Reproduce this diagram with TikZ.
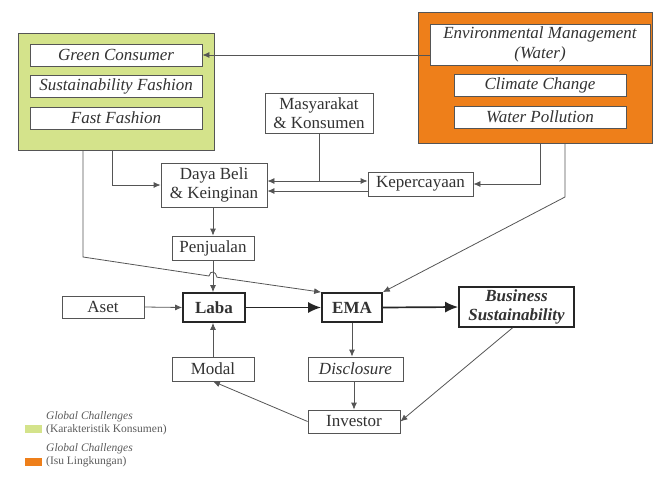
\documentclass[tikz,border=0pt]{standalone}
\usepackage{fontspec}
\setmainfont{Liberation Serif}
\definecolor{consgreen}{RGB}{212,227,139}
\definecolor{envorange}{RGB}{238,127,26}
\definecolor{linegray}{RGB}{85,85,85}
\definecolor{textgray}{RGB}{50,50,50}
\usetikzlibrary{positioning, arrows.meta}

\begin{document}
\begin{tikzpicture}[x=1pt, y=-1pt,
    box/.style={draw=linegray, line width=0.8pt, fill=white, inner sep=0pt, align=center,
                text=textgray, font=\fontsize{17}{19.5}\selectfont},
    boldbox/.style={box, draw=black!85, line width=1.7pt, font=\fontsize{17}{19.5}\selectfont\bfseries},
    arr/.style={draw=linegray, line width=0.8pt, -{Latex[length=7pt, width=6pt]}},
    bigarr/.style={draw=black!85, line width=1.7pt, -{Latex[length=13pt, width=11pt]}},
    legend/.style={anchor=west, inner sep=0pt, text=textgray!80, align=left,
                   font=\fontsize{11.5}{13}\selectfont}]
                \useasboundingbox (0,0) rectangle (654,482);

                % Global challenges: consumer side
                \node[draw=linegray, line width=0.8pt, fill=consgreen, minimum width=196pt, minimum height=117pt] (gbox) at (116,91.5) {};
                \node[box, minimum width=172pt, minimum height=22pt] (gc) at (116,55) {\itshape Green Consumer};
                \node[box, minimum width=172pt, minimum height=22pt] (sf) at (116,86) {\itshape Sustainability Fashion};
                \node[box, minimum width=172pt, minimum height=22pt] (ff) at (116,118) {\itshape Fast Fashion};

                % Global challenges: environment side
                \node[draw=linegray, line width=0.8pt, fill=envorange, minimum width=234pt, minimum height=131pt] (obox) at (535,77.5) {};
                \node[box, minimum width=220pt, minimum height=41pt] (emw) at (540,44.5) {\itshape Environmental Management\\\itshape (Water)};
                \node[box, minimum width=172pt, minimum height=22pt] (cc) at (540,85) {\itshape Climate Change};
                \node[box, minimum width=172pt, minimum height=22pt] (wp) at (540,117) {\itshape Water Pollution};

                % Middle blocks
                \node[box, minimum width=108pt, minimum height=40pt] (mk) at (319,113) {Masyarakat\\\& Konsumen};
                \node[box, minimum width=106pt, minimum height=44pt] (db) at (214,185) {Daya Beli\\\& Keinginan};
                \node[box, minimum width=105pt, minimum height=24pt] (kp) at (420.5,184) {Kepercayaan};
                \node[box, minimum width=82pt, minimum height=24pt] (pj) at (213,248) {Penjualan};

                % Main chain
                \node[box, minimum width=82pt, minimum height=22pt] (aset) at (103,307) {Aset};
                \node[boldbox, minimum width=62pt, minimum height=29pt] (laba) at (214,307.5) {Laba};
                \node[boldbox, minimum width=60pt, minimum height=29pt] (ema) at (352,307.5) {EMA};
                \node[boldbox, minimum width=115pt, minimum height=40pt] (bs) at (516.5,307) {\itshape Business\\\itshape Sustainability};
                \node[box, minimum width=82pt, minimum height=24pt] (modal) at (213,369) {Modal};
                \node[box, minimum width=95pt, minimum height=24pt] (disc) at (355.5,369) {\itshape Disclosure};
                \node[box, minimum width=92pt, minimum height=23pt] (inv) at (354,421.5) {Investor};

                % Links from the challenge boxes
                \coordinate (g1) at (112,150);
                \coordinate (g2) at (83,150);
                \coordinate (o1) at (540,143);
                \coordinate (o2) at (565,143);
                \draw[arr] (emw.west |- gc.east) -- (gc.east);
                \draw[arr] (g1) |- (db.west);
                \draw[arr] (g2) -- (83,257) -- (209,276) .. controls (210,270) and (216,271) .. (217,277.2) -- (ema.north west);
                \draw[arr] (o1) |- (kp.east);
                \draw[arr] (o2) -- (565,197) -- (ema.north east);

                % Trust loop
                \draw[arr, {Latex[length=7pt, width=6pt]}-{Latex[length=7pt, width=6pt]}] (db.east |- 0,181) -- (kp.west |- 0,181);
                \draw[arr] (kp.west |- 0,191) -- (db.east |- 0,191);
                \draw[draw=linegray, line width=0.8pt] (mk.south) -- (mk.south |- 0,181);

                % Flow to profit
                \draw[arr] (db.south -| pj.north) -- (pj.north);
                \draw[arr] (pj.south) -- (laba.north -| pj.south);
                \draw[arr] (aset.east) -- (laba.west);
                \draw[arr] (modal.north) -- (laba.south -| modal.north);
                \draw[bigarr] (laba.east) -- (ema.west);
                \draw[bigarr] (ema.east) -- (bs.west);

                % Disclosure and investors
                \draw[arr] (ema.south) -- (ema.south |- disc.north);
                \draw[arr] (disc.south -| inv.north) -- (inv.north);
                \draw[arr] (inv.west) -- (modal.south);
                \draw[arr] ([xshift=-4pt]bs.south) -- (inv.east);

                % Legend
                \fill[consgreen] (25,425) rectangle (42,433);
                \fill[envorange] (25,458) rectangle (42,466);
                \node[legend] (lg1) at (46,423.5) {\itshape Global Challenges\\(Karakteristik Konsumen)};
                \node[legend] (lg2) at (46,455.5) {\itshape Global Challenges\\(Isu Lingkungan)};
            \end{tikzpicture}
\end{document}
